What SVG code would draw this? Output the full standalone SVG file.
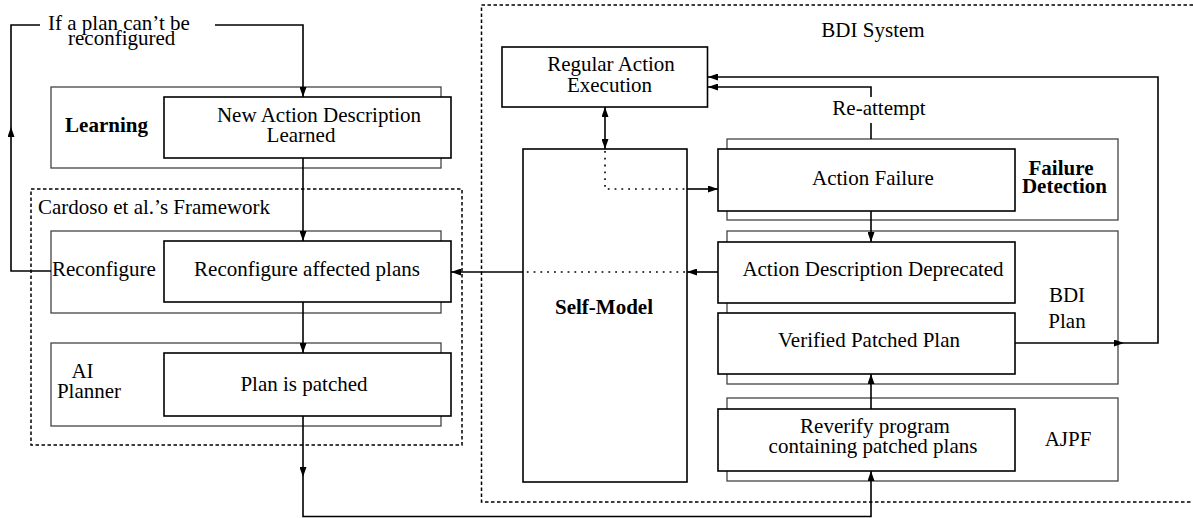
<svg xmlns="http://www.w3.org/2000/svg" width="1193" height="518" viewBox="0 0 1193 518">
<defs>
<style>
text{font-family:"Liberation Serif","Times New Roman",serif;font-size:21px;fill:#000}
.b{font-weight:bold}
.m{text-anchor:middle}
.outer{fill:#fff;stroke:#444;stroke-width:1.3}
.inner{fill:#fff;stroke:#000;stroke-width:1.6}
.dash{fill:none;stroke:#000;stroke-width:1.5;stroke-dasharray:3.5 2.5}
.c{fill:none;stroke:#000;stroke-width:1.6}
.dot{fill:none;stroke:#000;stroke-width:1.6;stroke-dasharray:1.8 5}
</style>
<marker id="ah" viewBox="0 0 10 7" refX="10" refY="3.5" markerWidth="10" markerHeight="7" markerUnits="userSpaceOnUse" orient="auto-start-reverse">
<path d="M0,0 L10,3.5 L0,7 z" fill="#000"/>
</marker>
</defs>
<rect width="1193" height="518" fill="#fff"/>

<g id="bdi-system">
<rect class="dash" x="481.5" y="5" width="730" height="497"/>
<text class="m" x="873" y="37">BDI System</text>
</g>

<g id="framework">
<rect class="dash" x="31" y="189" width="431" height="256"/>
<text x="38" y="214">Cardoso et al.’s Framework</text>
</g>

<g id="learning">
<rect class="outer" x="51" y="87" width="390" height="81"/>
<text class="b m" x="106.5" y="132">Learning</text>
<g id="new-action">
<rect class="inner" x="164" y="97" width="287" height="61"/>
<text class="m" x="319" y="122">New Action Description</text>
<text class="m" x="301" y="142">Learned</text>
</g>
</g>

<g id="reconfigure">
<rect class="outer" x="51" y="231" width="390" height="82"/>
<text x="52" y="276">Reconfigure</text>
<g id="reconfigure-plans">
<rect class="inner" x="164" y="241" width="287" height="61"/>
<text class="m" x="307" y="276">Reconfigure affected plans</text>
</g>
</g>

<g id="ai-planner">
<rect class="outer" x="51" y="343" width="390" height="83"/>
<text class="m" x="82.5" y="378">AI</text>
<text class="m" x="89" y="398">Planner</text>
<g id="plan-patched">
<rect class="inner" x="164" y="353" width="287" height="63"/>
<text class="m" x="304" y="391">Plan is patched</text>
</g>
</g>

<g id="regular-action">
<rect class="inner" x="502" y="47" width="205.5" height="60"/>
<text class="m" x="611" y="71">Regular Action</text>
<text class="m" x="609.5" y="92">Execution</text>
</g>

<g id="self-model">
<rect class="inner" x="523" y="149" width="164" height="333"/>
<text class="b m" x="604" y="314">Self-Model</text>
</g>

<g id="failure-detection">
<rect class="outer" x="727" y="139" width="391" height="81"/>
<text class="b m" x="1061" y="175">Failure</text>
<text class="b m" x="1064.5" y="193">Detection</text>
<g id="action-failure">
<rect class="inner" x="718" y="149" width="297" height="62"/>
<text class="m" x="873" y="185">Action Failure</text>
</g>
</g>

<g id="bdi-plan">
<rect class="outer" x="727" y="231" width="391" height="153"/>
<text class="m" x="1067" y="302">BDI</text>
<text class="m" x="1067" y="328">Plan</text>
<g id="action-deprecated">
<rect class="inner" x="718" y="242" width="297" height="61"/>
<text class="m" x="873" y="276">Action Description Deprecated</text>
</g>
<g id="verified-plan">
<rect class="inner" x="718" y="313" width="297" height="61"/>
<text class="m" x="869" y="347">Verified Patched Plan</text>
</g>
</g>

<g id="ajpf">
<rect class="outer" x="727" y="398" width="391" height="83"/>
<text class="m" x="1068" y="446">AJPF</text>
<g id="reverify">
<rect class="inner" x="718" y="409" width="297" height="62"/>
<text class="m" x="875" y="433">Reverify program</text>
<text class="m" x="873" y="453">containing patched plans</text>
</g>
</g>

<g id="connectors">
<text x="48" y="30">If a plan can’t be</text>
<text x="68" y="45">reconfigured</text>
<path class="c" d="M51,271 H11 V127" marker-end="url(#ah)"/>
<path class="c" d="M11,127 V25 H40"/>
<path class="c" d="M215,25 H303 V97" marker-end="url(#ah)"/>
<path class="c" d="M303,158 V241" marker-end="url(#ah)"/>
<path class="c" d="M303,302 V353" marker-end="url(#ah)"/>
<path class="c" d="M303,416 V477" marker-end="url(#ah)"/>
<path class="c" d="M303,477 V516.5 H871 V471" marker-end="url(#ah)"/>
<path class="c" d="M871,409 V374" marker-end="url(#ah)"/>
<path class="c" d="M1015,343 H1124" marker-end="url(#ah)"/>
<path class="c" d="M1124,343 H1158 V77 H708" marker-end="url(#ah)"/>
<path class="c" d="M871,139 V123"/>
<text class="m" x="879" y="115">Re-attempt</text>
<path class="c" d="M871,97 V87 H708" marker-end="url(#ah)"/>
<path class="c" d="M871,211 V242" marker-end="url(#ah)"/>
<path class="c" d="M605,107 V149" marker-start="url(#ah)" marker-end="url(#ah)"/>
<path class="dot" d="M605,151 V189 H687"/>
<path class="c" d="M687,189 H718" marker-end="url(#ah)"/>
<path class="c" d="M718,272 H687" marker-end="url(#ah)"/>
<path class="dot" d="M685,272 H524"/>
<path class="c" d="M523,272 H451" marker-end="url(#ah)"/>
</g>
</svg>
